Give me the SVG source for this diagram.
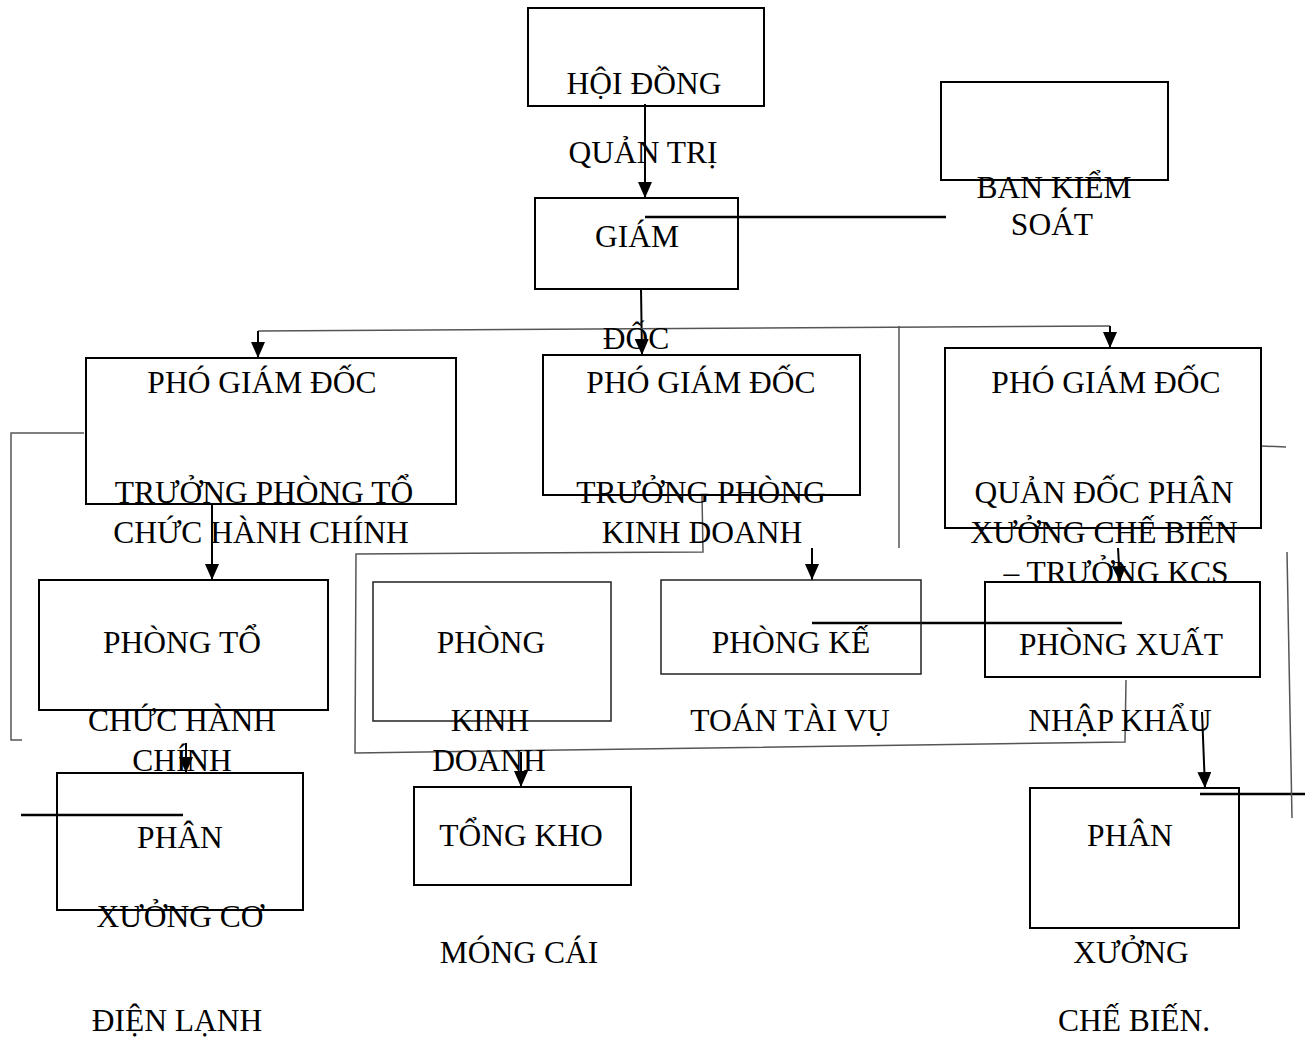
<svg xmlns="http://www.w3.org/2000/svg" width="1305" height="1039" viewBox="0 0 1305 1039">
<style>
.box{fill:none;stroke:#000;stroke-width:2}
.thin{fill:none;stroke:#222;stroke-width:1.5}
.t{font-family:"Liberation Serif","Times New Roman",serif;font-size:31.5px;fill:#000;text-anchor:middle}
.c{fill:none;stroke:#000;stroke-width:2}
.g{fill:none;stroke:#555;stroke-width:1.5}
.k{fill:none;stroke:#000;stroke-width:2.5}
</style>
<defs>
<marker id="ah" markerUnits="userSpaceOnUse" markerWidth="16" markerHeight="14" refX="16" refY="7" orient="auto">
<path d="M0,0 L16,7 L0,14 z" fill="#000"/>
</marker>
</defs>
<rect width="1305" height="1039" fill="#fff"/>
<g id="connectors">
<line class="c" x1="645" y1="104" x2="645" y2="198" marker-end="url(#ah)"/>
<line class="c" x1="641" y1="289" x2="642" y2="355" marker-end="url(#ah)"/>
<line class="k" x1="645" y1="217" x2="946" y2="217"/>
<line class="g" x1="258" y1="331" x2="1110" y2="326"/>
<line class="c" x1="258" y1="331" x2="258" y2="358" marker-end="url(#ah)"/>
<line class="c" x1="1110" y1="326" x2="1110" y2="348" marker-end="url(#ah)"/>
<line class="g" x1="899" y1="326" x2="899" y2="548"/>
<line class="c" x1="212" y1="505" x2="212" y2="580" marker-end="url(#ah)"/>
<polyline class="g" points="84,433 11,433 11,740 22,740"/>
<line class="c" x1="186" y1="743" x2="186" y2="773" marker-end="url(#ah)"/>
<line class="k" x1="21" y1="815" x2="183" y2="815"/>
<polyline class="g" points="702,495 703,552 356,554 355,753 1125,742 1126,680"/>
<line class="c" x1="521" y1="752" x2="521" y2="787" marker-end="url(#ah)"/>
<line class="c" x1="812" y1="548" x2="812" y2="580" marker-end="url(#ah)"/>
<line class="k" x1="812" y1="623" x2="1122" y2="623"/>
<line class="c" x1="1118" y1="548" x2="1120" y2="582" marker-end="url(#ah)"/>
<line class="c" x1="1202" y1="712" x2="1205" y2="788" marker-end="url(#ah)"/>
<line class="k" x1="1200" y1="794" x2="1305" y2="794"/>
<line class="g" x1="1287" y1="552" x2="1292" y2="818"/>
<line class="g" x1="1261" y1="446" x2="1286" y2="447"/>
</g>
<g id="hoi-dong-quan-tri">
<rect class="box" x="528" y="8" width="236" height="98"/>
<text class="t" x="644" y="94">HỘI ĐỒNG</text>
<text class="t" x="643" y="163">QUẢN TRỊ</text>
</g>
<g id="giam-doc">
<rect class="box" x="535" y="198" width="203" height="91"/>
<text class="t" x="637" y="247">GIÁM</text>
<text class="t" x="636" y="349">ĐỐC</text>
</g>
<g id="ban-kiem-soat">
<rect class="box" x="941" y="82" width="227" height="98"/>
<text class="t" x="1054" y="198">BAN KIỂM</text>
<text class="t" x="1052" y="235">SOÁT</text>
</g>
<g id="pgd-tchc">
<rect class="box" x="86" y="358" width="370" height="146"/>
<text class="t" x="262" y="393">PHÓ GIÁM ĐỐC</text>
<text class="t" x="264" y="503">TRƯỞNG PHÒNG TỔ</text>
<text class="t" x="261" y="543">CHỨC HÀNH CHÍNH</text>
</g>
<g id="pgd-kd">
<rect class="box" x="543" y="355" width="317" height="140"/>
<text class="t" x="701" y="393">PHÓ GIÁM ĐỐC</text>
<text class="t" x="701" y="503">TRƯỞNG PHÒNG</text>
<text class="t" x="702" y="543">KINH DOANH</text>
</g>
<g id="pgd-sx">
<rect class="box" x="945" y="348" width="316" height="180"/>
<text class="t" x="1106" y="393">PHÓ GIÁM ĐỐC</text>
<text class="t" x="1104" y="503">QUẢN ĐỐC PHÂN</text>
<text class="t" x="1104" y="543">XƯỞNG CHẾ BIẾN</text>
<text class="t" x="1116" y="583">– TRƯỞNG KCS</text>
</g>
<g id="phong-tchc">
<rect class="box" x="39" y="580" width="289" height="130"/>
<text class="t" x="182" y="653">PHÒNG TỔ</text>
<text class="t" x="182" y="731">CHỨC HÀNH</text>
<text class="t" x="182" y="771">CHÍNH</text>
</g>
<g id="phong-kd">
<rect class="thin" x="373" y="582" width="238" height="139"/>
<text class="t" x="491" y="653">PHÒNG</text>
<text class="t" x="490" y="731">KINH</text>
<text class="t" x="489" y="771">DOANH</text>
</g>
<g id="phong-ktv">
<rect class="thin" x="661" y="580" width="260" height="94"/>
<text class="t" x="791" y="653">PHÒNG KẾ</text>
<text class="t" x="790" y="731">TOÁN TÀI VỤ</text>
</g>
<g id="phong-xnk">
<rect class="box" x="985" y="582" width="275" height="95"/>
<text class="t" x="1121" y="655">PHÒNG XUẤT</text>
<text class="t" x="1120" y="731">NHẬP KHẨU</text>
</g>
<g id="px-co-dien-lanh">
<rect class="box" x="57" y="773" width="246" height="137"/>
<text class="t" x="180" y="848">PHÂN</text>
<text class="t" x="180" y="927">XƯỞNG CƠ</text>
<text class="t" x="177" y="1031">ĐIỆN LẠNH</text>
</g>
<g id="tong-kho">
<rect class="box" x="414" y="787" width="217" height="98"/>
<text class="t" x="521" y="846">TỔNG KHO</text>
<text class="t" x="519" y="963">MÓNG CÁI</text>
</g>
<g id="px-che-bien">
<rect class="box" x="1030" y="788" width="209" height="140"/>
<text class="t" x="1130" y="846">PHÂN</text>
<text class="t" x="1131" y="963">XƯỞNG</text>
<text class="t" x="1134" y="1031">CHẾ BIẾN.</text>
</g>
</svg>
